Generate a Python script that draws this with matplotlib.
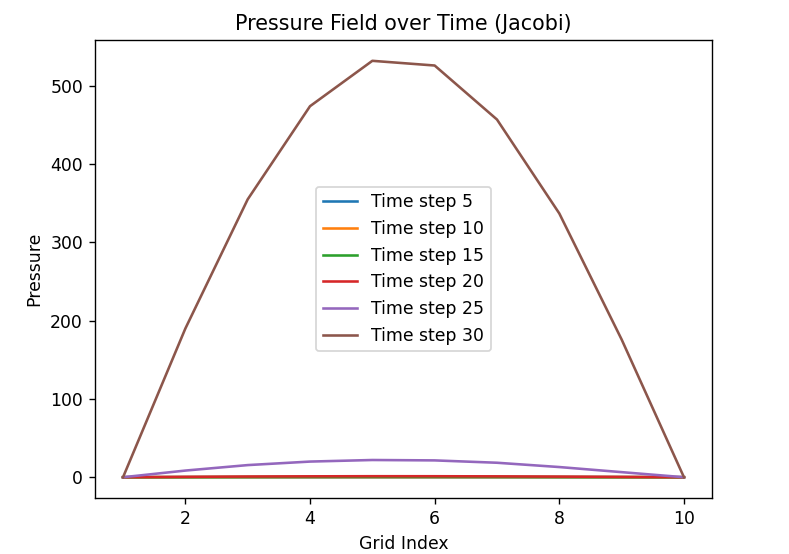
import numpy as np
import matplotlib.pyplot as plt

grid = np.arange(1, 11)
steps = [5, 10, 15, 20, 25, 30]

p5 = [0, 0.01, 0.02, 0.02, 0.03, 0.03, 0.02, 0.02, 0.01, 0]
p10 = [0, 0.05, 0.09, 0.12, 0.13, 0.13, 0.11, 0.08, 0.04, 0]
p15 = [0, 0.15, 0.27, 0.35, 0.39, 0.38, 0.33, 0.24, 0.13, 0]
p20 = [0, 0.5, 0.9, 1.15, 1.3, 1.27, 1.1, 0.8, 0.42, 0]
p25 = [0, 8.5, 15.5, 20, 22, 21.5, 18.5, 13, 6.5, 0]
p30 = [0, 190, 355, 474, 532, 526, 457, 337, 176, 0]

plt.figure(figsize=(789 / 124, 554 / 124), dpi=124)
for s, p in zip(steps, [p5, p10, p15, p20, p25, p30]):
    plt.plot(grid, p, label=f"Time step {s}")
plt.title("Pressure Field over Time (Jacobi)")
plt.xlabel("Grid Index")
plt.ylabel("Pressure")
plt.legend(loc="center")
plt.subplots_adjust(left=0.1204, right=0.9024, top=0.9278, bottom=0.101)
plt.savefig("out.png", dpi=124)
